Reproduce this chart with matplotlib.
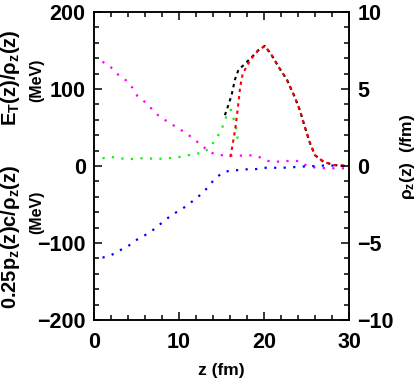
import matplotlib
matplotlib.use("Agg")
import matplotlib.pyplot as plt
from matplotlib.ticker import MultipleLocator

plt.rcParams["font.family"] = ["Liberation Sans", "DejaVu Sans"]
plt.rcParams["font.weight"] = "bold"
plt.rcParams["mathtext.fontset"] = "custom"
plt.rcParams["mathtext.rm"] = "Liberation Sans:bold"
plt.rcParams["mathtext.it"] = "Liberation Sans:bold"
plt.rcParams["mathtext.bf"] = "Liberation Sans:bold"
plt.rcParams["mathtext.default"] = "rm"

# E_T / rho (magenta)
z_mag = [1.0, 2.0, 2.9, 3.8, 4.5, 5.1, 6.0, 6.9, 7.8, 8.7, 9.6, 10.5, 11.4, 12.3,
         13.2, 14.1, 15.0, 16.0, 16.9, 17.8, 18.7, 19.6, 20.5, 21.5, 22.5, 23.4,
         24.2, 25.2, 26.2, 27.3, 28.4, 29.4, 30.0]
v_mag = [135.5, 128, 118, 111, 102, 91, 83, 73, 63, 57.5, 51, 45, 38, 30,
         22, 15.6, 14, 13.5, 13.5, 13.5, 14, 11, 6.5, 5.5, 6.5, 6.5,
         6.5, -1.2, -2, -3, -3, -3, -3]

# green dotted
z_grn = [1.0, 2.0, 2.9, 3.8, 4.6, 5.5, 6.4, 7.3, 8.2, 9.1, 10.0, 11.1, 12.0, 12.9,
         13.7, 14.4, 15.0, 15.4, 15.7, 16.1, 16.4, 16.7, 17.0]
v_grn = [10, 12, 9.7, 9.7, 9, 10, 10, 9, 9.7, 10.4, 11.7, 14, 16, 17,
         25, 36, 47.5, 58.7, 69, 73, 62, 51, 27]

# red dashed
z_red = [15.95, 16.2, 16.4, 16.6, 16.8, 17.0, 17.2, 17.5, 18.4, 19.3, 20.1, 20.9,
         21.7, 22.7, 23.6, 24.2, 24.8, 25.4, 26.0, 27.0, 28.2, 29.0, 30.0]
v_red = [7, 21, 34, 47, 64, 83, 103, 120, 138, 150, 156, 144,
         129, 112, 90, 73, 51, 30, 14, 5.5, 1.3, 0.5, 0]

# black dashed (total)
z_blk = [15.4, 15.9, 16.2, 16.6, 17.0, 17.8, 18.7, 19.3, 20.1, 20.9,
         21.7, 22.7, 23.6, 24.2, 24.8, 25.4, 26.0, 27.0, 28.2, 29.0, 30.0]
v_blk = [66, 82, 93, 113, 125, 133, 143, 150, 156, 144,
         129, 112, 90, 73, 51, 30, 14, 5.5, 1.3, 0.5, 0]

# 0.25 p_z c / rho (blue)
z_blu = [1.0, 2.0, 2.9, 3.8, 4.7, 5.6, 6.5, 7.4, 8.3, 9.2, 10.2, 11.1, 11.9, 12.9,
         13.7, 14.6, 15.4, 16.4, 17.3, 18.2, 19.1, 20.0, 21.0, 22.0, 23.0, 24.0,
         25.0, 26.0, 27.0, 28.0, 29.0, 30.0]
v_blu = [-119, -116, -110, -106, -98, -92, -87, -79, -71, -63, -57, -50, -43, -34,
         -23, -13, -7.4, -5.6, -5.2, -4, -4, -2.3, -2.3, -2.3, -2, -1,
         -0.5, 0, 0.5, 0.5, 0.3, 0]

fig = plt.figure(figsize=(4.15, 3.81), dpi=100)
ax = fig.add_axes([94 / 415, 1 - 320 / 381, 255 / 415, 308 / 381])

dot = (0, (1, 3.3))
ax.plot(z_mag, v_mag, color="#ff00ff", lw=1.6, linestyle=dot)
ax.plot(z_grn, v_grn, color="#11ee11", lw=1.6, linestyle=dot)
ax.plot(z_blu, v_blu, color="#0000ff", lw=1.6, linestyle=dot)
ax.plot(z_blk, v_blk, color="black", lw=1.5, linestyle=(0, (1.6, 1.9)))
ax.plot(z_red, v_red, color="#ff0000", lw=1.5, linestyle=(1.75, (1.6, 1.9)))

ax.set_xlim(0, 30)
ax.set_ylim(-200, 200)
ax.xaxis.set_major_locator(MultipleLocator(10))
ax.xaxis.set_minor_locator(MultipleLocator(2))
ax.yaxis.set_major_locator(MultipleLocator(100))
ax.yaxis.set_minor_locator(MultipleLocator(20))
ax.tick_params(which="both", direction="in", top=True, right=False, width=1.1)
ax.tick_params(which="major", length=6, labelsize=15.5, pad=6)
ax.tick_params(which="minor", length=3.5)
ax.tick_params(axis="x", which="major", pad=9)
for s in ax.spines.values():
    s.set_linewidth(1.1)

ax2 = ax.twinx()
ax2.set_ylim(-10, 10)
ax2.yaxis.set_major_locator(MultipleLocator(5))
ax2.yaxis.set_minor_locator(MultipleLocator(1))
ax2.tick_params(which="both", direction="in", width=1.1)
ax2.tick_params(which="major", length=6, labelsize=15.5, pad=6)
ax2.tick_params(which="minor", length=3.5)
for s in ax2.spines.values():
    s.set_linewidth(1.1)

ax.set_xlabel("z (fm)", fontsize=12.5, fontweight="bold", labelpad=7)

# y labels
fig.text(11 / 415, 1 - 78 / 381, r"E$_T$(z)/$\rho_z$(z)", rotation=90,
         ha="center", va="center", fontsize=14.5, fontweight="bold")
fig.text(37 / 415, 1 - 80 / 381, "(MeV)", rotation=90,
         ha="center", va="center", fontsize=11.5, fontweight="bold")
fig.text(11 / 415, 1 - 237 / 381, r"0.25p$_z$(z)c/$\rho_z$(z)", rotation=90,
         ha="center", va="center", fontsize=14.5, fontweight="bold")
fig.text(37 / 415, 1 - 212 / 381, "(MeV)", rotation=90,
         ha="center", va="center", fontsize=11.5, fontweight="bold")
fig.text(407 / 415, 1 - 157 / 381, r"$\rho_z$(z)  (/fm)", rotation=90,
         ha="center", va="center", fontsize=12.5, fontweight="bold")

fig.savefig("out.png", dpi=100)
